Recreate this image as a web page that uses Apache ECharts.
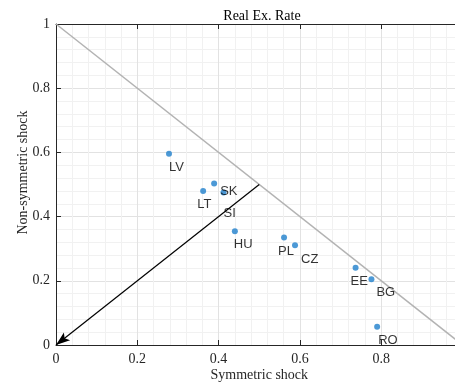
<!DOCTYPE html>
<html>
<head>
<meta charset="utf-8">
<script src="https://cdn.jsdelivr.net/npm/echarts@6/dist/echarts.min.js"></script>
<style>html,body{margin:0;padding:0;background:#fff;}#chart{width:455px;height:385px;}</style>
</head>
<body>
<div id="chart"></div>
<script>
// ---- data ----
const countries = ['LV', 'SK', 'LT', 'SI', 'HU', 'PL', 'CZ', 'EE', 'BG', 'RO'];
const symmetricShock = [0.278, 0.389, 0.362, 0.412, 0.440, 0.561, 0.588, 0.737, 0.776, 0.790];
const nonSymmetricShock = [0.596, 0.503, 0.480, 0.475, 0.354, 0.335, 0.311, 0.241, 0.205, 0.057];
const diagonalX = [0, 1];
const diagonalY = [1, 0];
const arrowFrom = [0.5, 0.5];
const arrowTo = [0, 0];
const xTickLabels = ['0', '0.2', '0.4', '0.6', '0.8'];
const yTickLabels = ['0', '0.2', '0.4', '0.6', '0.8', '1'];

// ---- style (label offsets in px, relative to the point) ----
const labelOffsets = {
  LV: [0, 14], SK: [6, 8], LT: [-6, 14], SI: [0, 21], HU: [-1, 13],
  PL: [-6, 14], CZ: [6, 14], EE: [-5, 14], BG: [5, 13], RO: [1, 14]
};
const SERIF = 'Liberation Serif, Times New Roman, serif';
const SANS = 'Liberation Sans, Arial, sans-serif';
const AX = '#262626';
const SYM = 6;

const chart = echarts.init(document.getElementById('chart'), null, {renderer: 'canvas'});

const scatterData = countries.map((c, i) => ({
  value: [symmetricShock[i], nonSymmetricShock[i]],
  name: c,
  label: {
    position: [SYM / 2 + labelOffsets[c][0], SYM / 2 + labelOffsets[c][1]]
  }
}));

const fmt = (list) => (v) => {
  const s = String(Math.round(v * 10) / 10);
  return list.indexOf(s) >= 0 ? s : '';
};

const axisCommon = {
  type: 'value',
  interval: 0.2,
  nameMoveOverlap: false,
  axisLine: {show: true, onZero: false, lineStyle: {color: AX, width: 1}},
  axisTick: {show: true, inside: true, length: 5, lineStyle: {color: AX, width: 1}},
  minorTick: {show: false, splitNumber: 5},
  splitLine: {show: true, lineStyle: {color: '#e2e2e2', width: 1}},
  minorSplitLine: {show: true, lineStyle: {color: '#f1f1f1', width: 1}}
};

chart.setOption({
  animation: false,
  backgroundColor: '#fff',
  title: {
    text: 'Real Ex. Rate',
    left: 257,
    top: 4,
    textAlign: 'center',
    textStyle: {fontFamily: SERIF, fontSize: 14, fontWeight: 'normal', color: '#000'}
  },
  grid: {left: 56, right: -7.5, top: 24, bottom: 40, containLabel: false, outerBoundsMode: 'none'},
  xAxis: [
    Object.assign({}, axisCommon, {
      min: 0, max: 1, position: 'bottom',
      name: 'Symmetric shock', nameLocation: 'middle', nameGap: 23,
      nameTextStyle: {fontFamily: SERIF, fontSize: 14, color: AX},
      axisLabel: {margin: 7, fontFamily: SERIF, fontSize: 14, color: AX,
        showMaxLabel: false, formatter: fmt(xTickLabels)}
    }),
    Object.assign({}, axisCommon, {
      min: 0, max: 1, position: 'top',
      axisLabel: {show: false},
      splitLine: {show: false}, minorSplitLine: {show: false}
    })
  ],
  yAxis: [
    Object.assign({}, axisCommon, {
      min: 0, max: 1, position: 'left',
      name: 'Non-symmetric shock', nameLocation: 'middle', nameGap: 26,
      nameTextStyle: {fontFamily: SERIF, fontSize: 14, color: AX, padding: [0, 0, 0, 24]},
      axisLabel: {margin: 6, fontFamily: SERIF, fontSize: 14, color: AX, formatter: fmt(yTickLabels)}
    })
  ],
  series: [
    {
      type: 'line',
      xAxisIndex: 0, yAxisIndex: 0,
      data: diagonalX.map((x, i) => [x, diagonalY[i]]),
      symbol: 'none',
      clip: true,
      silent: true,
      lineStyle: {color: '#b3b3b3', width: 1.5},
      z: 2
    },
    {
      type: 'line',
      xAxisIndex: 0, yAxisIndex: 0,
      data: [],
      symbol: 'none',
      silent: true,
      markLine: {
        silent: true,
        symbol: ['none', 'path://M0,0 L5,14 L0,11 L-5,14 Z'],
        symbolSize: 14,
        symbolKeepAspect: true,
        symbolOffset: [0, [0, 7]],
        label: {show: false},
        lineStyle: {color: '#000', width: 1.2, type: 'solid'},
        itemStyle: {color: '#000'},
        emphasis: {disabled: true},
        data: [[{coord: arrowFrom}, {coord: arrowTo}]]
      },
      z: 3
    },
    {
      type: 'scatter',
      xAxisIndex: 0, yAxisIndex: 0,
      data: scatterData,
      symbol: 'circle',
      symbolSize: SYM,
      itemStyle: {color: '#1f7fcc'},
      label: {
        show: true,
        formatter: (p) => p.name,
        align: 'left',
        verticalAlign: 'middle',
        fontFamily: SANS,
        fontSize: 13,
        color: '#000'
      },
      z: 4
    }
  ]
});
</script>
</body>
</html>
